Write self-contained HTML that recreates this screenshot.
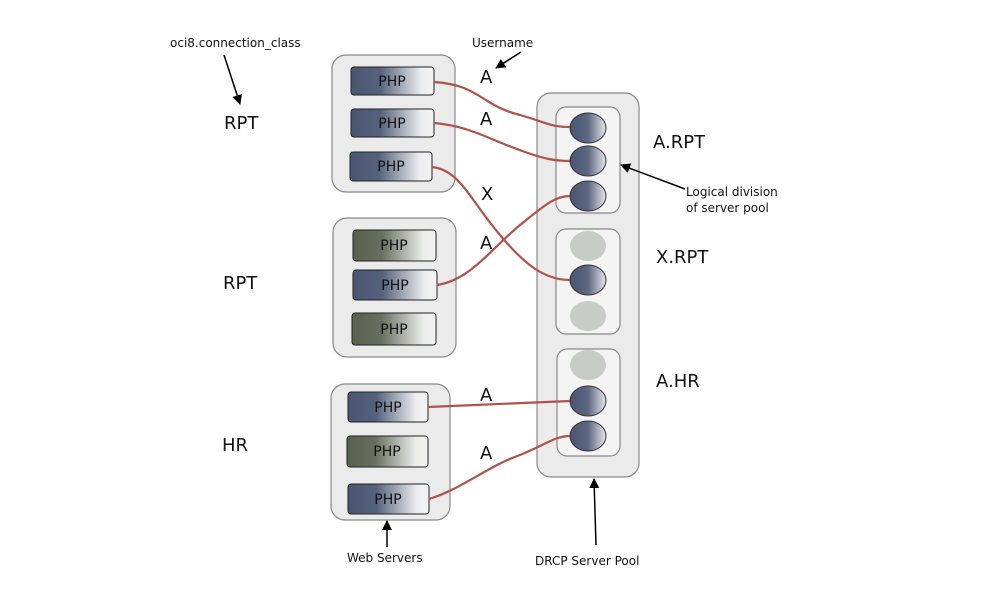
<!DOCTYPE html>
<html><head><meta charset="utf-8"><style>
html,body{margin:0;padding:0;background:#fff;}
svg{display:block;}
text{font-family:"DejaVu Sans","Liberation Sans",sans-serif;fill:#111;}
</style></head><body>
<svg width="994" height="615" viewBox="0 0 994 615" xmlns="http://www.w3.org/2000/svg">
<defs>
<linearGradient id="gb" x1="0" x2="1" y1="0" y2="0">
<stop offset="0" stop-color="#4a5572"/><stop offset="0.35" stop-color="#56617c"/><stop offset="0.85" stop-color="#eceef0"/><stop offset="1" stop-color="#f2f2f2"/></linearGradient>
<linearGradient id="gg" x1="0" x2="1" y1="0" y2="0">
<stop offset="0" stop-color="#58614f"/><stop offset="0.35" stop-color="#677060"/><stop offset="0.85" stop-color="#eceeea"/><stop offset="1" stop-color="#f2f2f2"/></linearGradient>
<linearGradient id="gc" x1="0" x2="1" y1="0" y2="0">
<stop offset="0" stop-color="#4a5572"/><stop offset="0.5" stop-color="#5b6680"/><stop offset="1" stop-color="#e4e6ea"/></linearGradient>
<marker id="ah" markerWidth="10" markerHeight="10" refX="9" refY="5" orient="auto" markerUnits="userSpaceOnUse"><path d="M0,0 L10,5 L0,10 z" fill="#000"/></marker>
</defs>
<g stroke="#888" stroke-width="1.2" fill="#ebebeb">
<rect x="332" y="55" width="123" height="137" rx="14"/>
<rect x="333" y="218" width="123" height="139" rx="14"/>
<rect x="331" y="384" width="119" height="136" rx="14"/>
<rect x="537" y="93" width="102" height="384" rx="14"/>
</g>
<g stroke="#888" stroke-width="1.2" fill="#f4f4f4">
<rect x="556" y="107" width="64" height="106" rx="10"/>
<rect x="556" y="229" width="64" height="105" rx="10"/>
<rect x="557" y="349" width="63" height="107" rx="10"/>
</g>
<g stroke="#222" stroke-width="1">
<rect x="351" y="67" width="83" height="28" rx="3" fill="url(#gb)"/>
<rect x="351" y="109" width="83" height="28" rx="3" fill="url(#gb)"/>
<rect x="350" y="152" width="82" height="29" rx="3" fill="url(#gb)"/>
<rect x="353" y="230" width="83" height="31" rx="3" fill="url(#gg)"/>
<rect x="353" y="270" width="84" height="30" rx="3" fill="url(#gb)"/>
<rect x="352" y="313" width="84" height="32" rx="3" fill="url(#gg)"/>
<rect x="348" y="392" width="80" height="30" rx="3" fill="url(#gb)"/>
<rect x="347" y="436" width="81" height="31" rx="3" fill="url(#gg)"/>
<rect x="348" y="484" width="81" height="30" rx="3" fill="url(#gb)"/>
</g>
<g font-size="14" text-anchor="middle">
<text x="392" y="86">PHP</text><text x="392" y="128">PHP</text><text x="391" y="171">PHP</text>
<text x="394" y="250">PHP</text><text x="395" y="290">PHP</text><text x="394" y="334">PHP</text>
<text x="388" y="412">PHP</text><text x="387" y="456">PHP</text><text x="388" y="504">PHP</text>
</g>
<g stroke="#333" stroke-width="1" fill="url(#gc)">
<ellipse cx="588" cy="128" rx="18" ry="15"/><ellipse cx="588" cy="161" rx="18" ry="15"/><ellipse cx="588" cy="196" rx="18" ry="15"/>
<ellipse cx="588" cy="280" rx="18" ry="15"/>
<ellipse cx="588" cy="401" rx="18" ry="15"/><ellipse cx="588" cy="436" rx="18" ry="15"/>
</g>
<g fill="#c8ccc6">
<ellipse cx="588" cy="246" rx="18" ry="15"/><ellipse cx="588" cy="316" rx="18" ry="15"/><ellipse cx="588" cy="365" rx="18" ry="15"/>
</g>
<g stroke="#b0524a" stroke-width="2.2" fill="none">
<path d="M434,82 C480,85 480,105 520,115 C545,122 550,127 570,127"/>
<path d="M434,123 C470,126 490,140 525,152 C545,159 555,161 570,161"/>
<path d="M432,167 C460,170 470,200 500,235 C525,265 545,280 570,280"/>
<path d="M437,285 C470,280 490,250 520,225 C545,205 555,196 570,196"/>
<path d="M428,407 L570,401"/>
<path d="M429,499 C460,490 490,465 520,455 C545,445 555,436 570,436"/>
</g>
<g font-size="18">
<text x="480" y="83">A</text><text x="480" y="125">A</text><text x="481" y="200">X</text>
<text x="480" y="249">A</text><text x="480" y="401">A</text><text x="480" y="459">A</text>
<text x="224" y="129">RPT</text><text x="223" y="289">RPT</text><text x="222" y="451">HR</text>
<text x="653" y="148">A.RPT</text><text x="656" y="263">X.RPT</text><text x="656" y="387">A.HR</text>
</g>
<g font-size="12">
<text x="170" y="47">oci8.connection_class</text>
<text x="472" y="47">Username</text>
<text x="686" y="196">Logical division</text>
<text x="686" y="212">of server pool</text>
<text x="347" y="562">Web Servers</text>
<text x="535" y="565">DRCP Server Pool</text>
</g>
<g stroke="#000" stroke-width="1.5" marker-end="url(#ah)">
<line x1="224" y1="55" x2="240" y2="104"/>
<line x1="521" y1="52" x2="496" y2="68"/>
<line x1="685" y1="189" x2="621" y2="165"/>
<line x1="387" y1="547" x2="387" y2="521"/>
<line x1="596" y1="545" x2="594" y2="479"/>
</g>
</svg>
</body></html>
